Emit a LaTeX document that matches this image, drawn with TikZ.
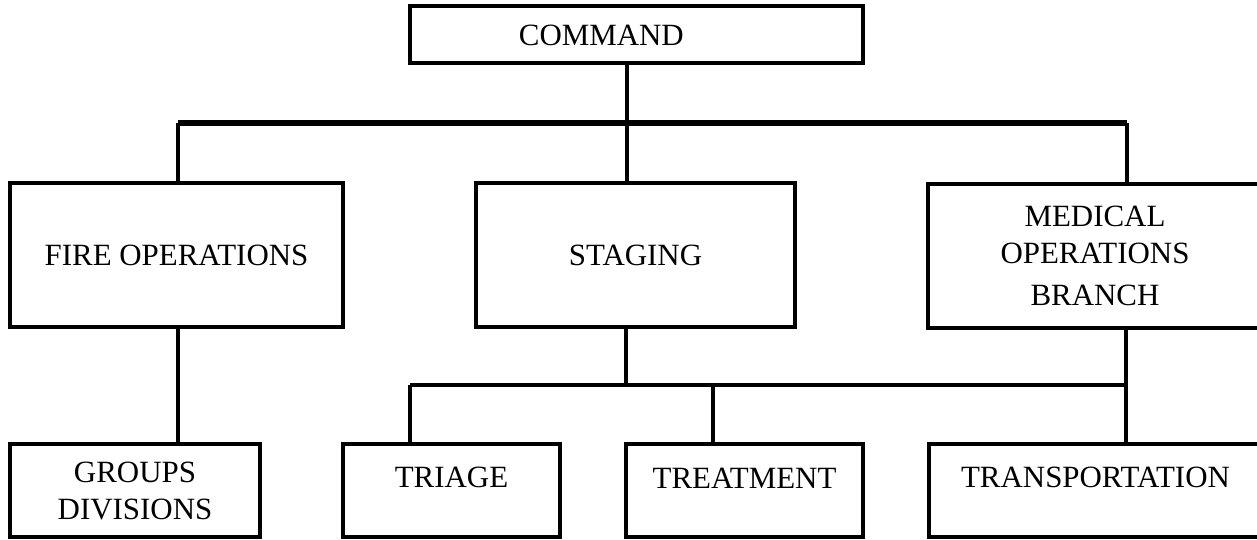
\documentclass[tikz,border=0pt]{standalone}
\usepackage{fontspec}
\setmainfont{Liberation Serif}
\usetikzlibrary{positioning}

\tikzset{
  unit/.style={draw,rectangle,line width=2.1pt,inner sep=0pt,align=center,
    font=\fontsize{17.6}{21}\selectfont},
  link/.style={line width=1.9pt},
  bar/.style={line width=2.9pt}
}

\begin{document}
\begin{tikzpicture}[x=0.02cm,y=-0.02cm]
\useasboundingbox (0,0) rectangle (1257,539);
\node[unit,minimum width=9.06cm,minimum height=1.14cm,text height=1.2em,text depth=0pt] (command) at (636.5,34.5) {COMMAND\hspace*{40pt}};
\node[unit,minimum width=6.66cm,minimum height=2.88cm] (fire) at (176.5,255) {FIRE OPERATIONS};
\node[unit,minimum width=6.38cm,minimum height=2.88cm] (staging) at (635.5,255) {STAGING};
\node[unit,minimum width=6.68cm,minimum height=2.88cm] (medical) at (1095,256) {MEDICAL\\OPERATIONS\\[3pt]BRANCH};
\node[unit,minimum width=5.0cm,minimum height=1.86cm,text depth=-0.85em] (groups) at (135,490.5) {GROUPS\\DIVISIONS};
\node[unit,minimum width=4.34cm,minimum height=1.86cm,text height=0.7em,text depth=1em] (triage) at (451.5,490.5) {TRIAGE};
\node[unit,minimum width=4.74cm,minimum height=1.86cm,text height=0.7em,text depth=0.9em] (treatment) at (744.5,490.5) {TREATMENT};
\node[unit,minimum width=6.66cm,minimum height=1.86cm,text height=0.7em,text depth=1em] (transportation) at (1095.5,490.5) {TRANSPORTATION};

\coordinate (topbar L) at (178,123);
\coordinate (topbar M) at (627,123);
\coordinate (topbar R) at (1127,123);
\coordinate (lowbar L) at (410,385);
\coordinate (lowbar M) at (626,385);
\coordinate (lowbar T) at (713,385);
\coordinate (lowbar R) at (1126,385);

\draw[bar] (topbar L) -- (topbar R);
\draw[link] (command.south -| topbar M) -- (topbar M);
\foreach \c/\n in {L/fire,M/staging,R/medical}
  \draw[link] (topbar \c) -- (topbar \c |- \n.north);
\draw[link] (fire.south -| topbar L) -- (groups.north -| topbar L);
\draw[link] (staging.south -| lowbar M) -- (lowbar M);
\draw[link] (lowbar L) -- (lowbar R);
\draw[link] (medical.south -| lowbar R) -- (transportation.north -| lowbar R);
\draw[link] (lowbar L) -- (lowbar L |- triage.north);
\draw[link] (lowbar T) -- (lowbar T |- treatment.north);
\end{tikzpicture}
\end{document}
